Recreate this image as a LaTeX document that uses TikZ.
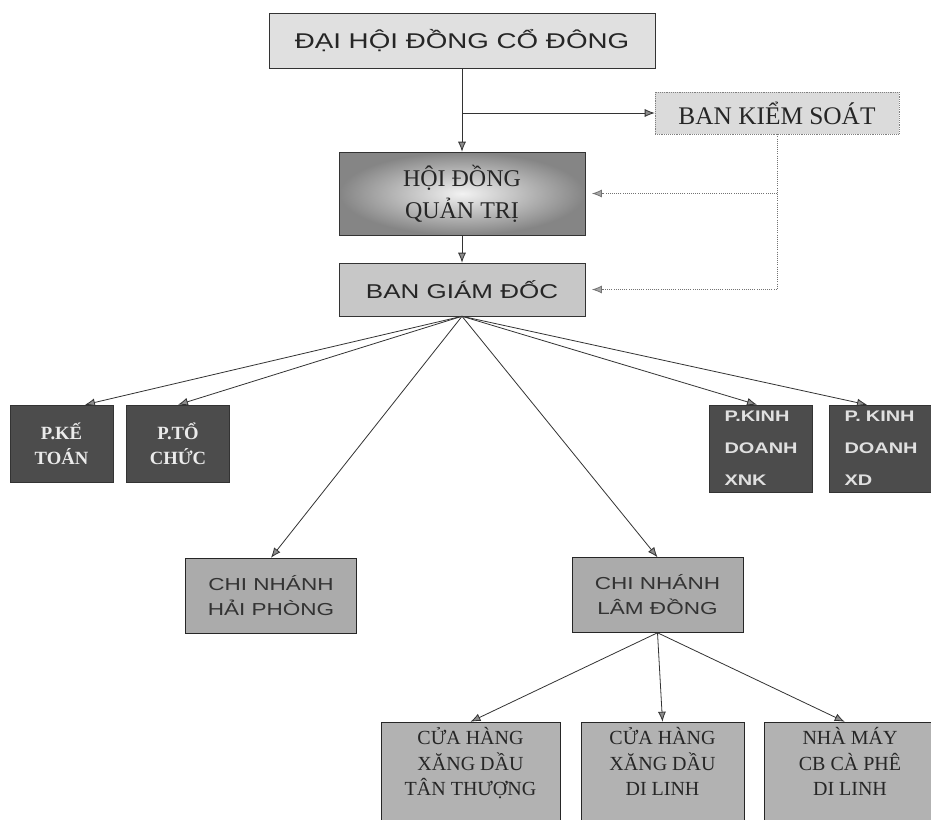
\documentclass[tikz,border=0pt]{standalone}
\usepackage{fontspec}
\setmainfont{Liberation Serif}
\setsansfont{Liberation Sans}
\newfontfamily\widesans[FakeStretch=1.3]{Liberation Sans}
\usetikzlibrary{arrows.meta}

\begin{document}
\begin{tikzpicture}[x=0.75pt,y=-0.75pt]
\tikzstyle{every node}+=[inner sep=0pt]
\tikzstyle{topbox}=[draw=black!80, text=black!85, align=center, minimum width=184.5pt]
\tikzstyle{phong}=[draw=black!80, fill=black!70, text=white!92!black, align=center,
  minimum width=77.25pt, minimum height=57.75pt, font=\bfseries\fontsize{14}{19}\selectfont]
\tikzstyle{kinhdoanh}=[draw=black!80, fill=black!70, text=white!88!black, align=left,
  inner xsep=11.25pt, text width=54.75pt, minimum height=65.25pt,
  font=\widesans\bfseries\fontsize{11.5}{24}\selectfont]
\tikzstyle{chinhanh}=[draw=black!85, fill=black!33, text=black!80, align=center,
  minimum width=128.5pt, minimum height=56.25pt, font=\widesans\fontsize{13}{18.75}\selectfont]
\tikzstyle{cuahang}=[draw=black!85, fill=black!30, text=black!85, align=center,
  minimum height=77.25pt, text depth=18pt, font=\fontsize{15}{19}\selectfont]
\tikzstyle{line}=[draw=black!80, semithick, -{Latex[length=7.5pt,width=6pt,fill=black!45]}]
\tikzstyle{dotline}=[draw=black!55, densely dotted, semithick, shorten >=5pt,
  -{Latex[length=7.5pt,width=6pt,fill=black!35]}]

\useasboundingbox (0,0) rectangle (931,819);
\fill[white] (0,0) rectangle (931,819);

% top of the chart
\node[topbox, fill=black!12, minimum width=289.5pt, minimum height=41.25pt,
  font=\widesans\fontsize{16}{19}\selectfont] (dhd) at (462,40.5) {ĐẠI HỘI ĐỒNG CỔ ĐÔNG};
\node[draw=black!50, densely dotted, fill=black!14, text=black!85, minimum width=183pt,
  minimum height=31.5pt, font=\fontsize{19}{22}\selectfont] (bks) at (777,113) {BAN KIỂM SOÁT};
\node[topbox, shading=radial, inner color=black!5, outer color=black!48, minimum height=62.25pt,
  font=\fontsize{18}{24}\selectfont] (hdqt) at (462,193.5) {HỘI ĐỒNG\\QUẢN TRỊ};
\node[topbox, fill=black!22, minimum height=39.75pt,
  font=\widesans\fontsize{15}{18}\selectfont] (bgd) at (462,289.5) {BAN GIÁM ĐỐC};

\draw[line] (dhd.south) -- (hdqt.north);
\draw[line] (dhd.south |- bks.west) -- (bks.west);
\draw[line] (hdqt.south) -- (bgd.north);
\draw[dotline] (bks.south) |- (bgd.east);
\draw[dotline] (bks.south |- hdqt.east) -- (hdqt.east);

% phong ban
\node[phong] (pkt) at (61.5,443.5) {P.KẾ\\TOÁN};
\node[phong] (ptc) at (178,443.5) {P.TỔ\\CHỨC};
\node[kinhdoanh] (pxnk) at (761,448.5) {P.KINH\\DOANH\\XNK};
\node[kinhdoanh, text width=66pt] (pxd) at (888.5,448.5) {P. KINH\\DOANH\\XD};

% chi nhanh
\node[chinhanh] (cnhp) at (271,595.5) {CHI NHÁNH\\HẢI PHÒNG};
\node[chinhanh] (cnld) at (657.5,595) {CHI NHÁNH\\LÂM ĐỒNG};

\draw[line] (bgd.south) -- ([xshift=17.6pt]pkt.north);
\draw[line] (bgd.south) -- (ptc.north);
\draw[line] (bgd.south) -- (cnhp.north);
\draw[line] (bgd.south) -- (cnld.north);
\draw[line] (bgd.south) -- ([xshift=-3pt]pxnk.north);
\draw[line] (bgd.south) -- ([xshift=-16.1pt]pxd.north);

% cua hang, nha may
\node[cuahang, minimum width=134.25pt] (chtt) at (470.5,773.5) {CỬA HÀNG\\XĂNG DẦU\\TÂN THƯỢNG};
\node[cuahang, minimum width=122.25pt] (chdl) at (662.5,773.5) {CỬA HÀNG\\XĂNG DẦU\\DI LINH};
\node[cuahang, minimum width=128pt] (nmcp) at (850,773.5) {NHÀ MÁY\\CB CÀ PHÊ\\DI LINH};

\draw[line] (cnld.south) -- (chtt.north);
\draw[line] (cnld.south) -- (chdl.north);
\draw[line] (cnld.south) -- ([xshift=-4pt]nmcp.north);
\end{tikzpicture}
\end{document}
